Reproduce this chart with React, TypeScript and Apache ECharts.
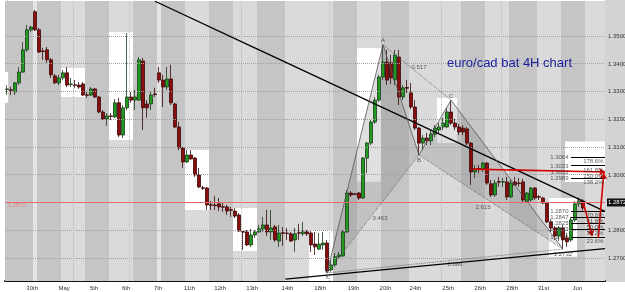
import React, { useEffect, useRef } from 'react';
import * as echarts from 'echarts';

// 4H candles: [open, close, low, high]
const ohlc: number[][] = [
  [1.3307, 1.3309, 1.3287, 1.3323], [1.3306, 1.3304, 1.3287, 1.3317], [1.3298, 1.3331, 1.3287, 1.3334],
  [1.3331, 1.3370, 1.3323, 1.3388], [1.3370, 1.3450, 1.3367, 1.3478], [1.3450, 1.3522, 1.3442, 1.3540],
  [1.3522, 1.3532, 1.3514, 1.3536], [1.3587, 1.3522, 1.3518, 1.3594], [1.3522, 1.3442, 1.3439, 1.3529],
  [1.3446, 1.3444, 1.3414, 1.3457], [1.3450, 1.3414, 1.3403, 1.3460], [1.3414, 1.3360, 1.3349, 1.3421],
  [1.3356, 1.3331, 1.3327, 1.3363], [1.3331, 1.3349, 1.3323, 1.3360], [1.3349, 1.3367, 1.3341, 1.3378],
  [1.3367, 1.3323, 1.3316, 1.3388], [1.3325, 1.3327, 1.3316, 1.3349], [1.3324, 1.3322, 1.3313, 1.3341],
  [1.3323, 1.3316, 1.3309, 1.3334], [1.3327, 1.3287, 1.3284, 1.3334], [1.3288, 1.3286, 1.3277, 1.3298],
  [1.3287, 1.3309, 1.3284, 1.3316], [1.3309, 1.3280, 1.3277, 1.3313], [1.3280, 1.3226, 1.3222, 1.3284],
  [1.3226, 1.3201, 1.3197, 1.3233], [1.3201, 1.3212, 1.3176, 1.3222], [1.3212, 1.3210, 1.3197, 1.3222],
  [1.3208, 1.3259, 1.3205, 1.3273], [1.3259, 1.3143, 1.3136, 1.3277], [1.3143, 1.3241, 1.3132, 1.3251],
  [1.3241, 1.3280, 1.3233, 1.3511], [1.3280, 1.3269, 1.3259, 1.3298], [1.3269, 1.3280, 1.3233, 1.3305],
  [1.3269, 1.3414, 1.3266, 1.3424], [1.3410, 1.3241, 1.3161, 1.3421], [1.3255, 1.3241, 1.3205, 1.3269],
  [1.3255, 1.3287, 1.3233, 1.3298], [1.3291, 1.3289, 1.3280, 1.3313], [1.3367, 1.3341, 1.3331, 1.3388],
  [1.3341, 1.3316, 1.3244, 1.3360], [1.3316, 1.3345, 1.3305, 1.3388], [1.3345, 1.3259, 1.3251, 1.3396],
  [1.3255, 1.3172, 1.3168, 1.3259], [1.3172, 1.3096, 1.3089, 1.3190], [1.3096, 1.3046, 1.3024, 1.3100],
  [1.3046, 1.3071, 1.3042, 1.3089], [1.3071, 1.3057, 1.3053, 1.3089], [1.3060, 1.2999, 1.2992, 1.3064],
  [1.2999, 1.2956, 1.2952, 1.3024], [1.2953, 1.2951, 1.2945, 1.2960], [1.2952, 1.2891, 1.2873, 1.2956],
  [1.2892, 1.2890, 1.2873, 1.2905], [1.2891, 1.2889, 1.2873, 1.2923], [1.2895, 1.2884, 1.2869, 1.2916],
  [1.2885, 1.2883, 1.2866, 1.2902], [1.2884, 1.2869, 1.2855, 1.2891], [1.2874, 1.2872, 1.2848, 1.2884],
  [1.2869, 1.2851, 1.2844, 1.2880], [1.2855, 1.2797, 1.2794, 1.2862], [1.2795, 1.2793, 1.2729, 1.2797],
  [1.2794, 1.2747, 1.2743, 1.2801], [1.2747, 1.2783, 1.2740, 1.2805], [1.2783, 1.2794, 1.2772, 1.2801],
  [1.2794, 1.2805, 1.2790, 1.2819], [1.2805, 1.2819, 1.2794, 1.2848], [1.2819, 1.2794, 1.2779, 1.2873],
  [1.2794, 1.2808, 1.2765, 1.2873], [1.2812, 1.2765, 1.2758, 1.2819], [1.2761, 1.2790, 1.2740, 1.2819],
  [1.2791, 1.2789, 1.2743, 1.2812], [1.2790, 1.2788, 1.2765, 1.2808], [1.2787, 1.2761, 1.2758, 1.2794],
  [1.2765, 1.2787, 1.2722, 1.2808], [1.2791, 1.2789, 1.2765, 1.2823], [1.2787, 1.2794, 1.2779, 1.2830],
  [1.2794, 1.2787, 1.2779, 1.2801], [1.2790, 1.2747, 1.2722, 1.2797], [1.2750, 1.2740, 1.2711, 1.2794],
  [1.2732, 1.2750, 1.2729, 1.2790], [1.2747, 1.2754, 1.2729, 1.2794], [1.2754, 1.2653, 1.2646, 1.2765],
  [1.2657, 1.2675, 1.2651, 1.2693], [1.2675, 1.2704, 1.2668, 1.2718], [1.2704, 1.2711, 1.2700, 1.2722],
  [1.2707, 1.2794, 1.2704, 1.2801], [1.2794, 1.2934, 1.2790, 1.2945], [1.2934, 1.2927, 1.2920, 1.2941],
  [1.2931, 1.2929, 1.2927, 1.2934], [1.2934, 1.2916, 1.2909, 1.2938], [1.2916, 1.3060, 1.2913, 1.3064],
  [1.3060, 1.3114, 1.3006, 1.3118], [1.3114, 1.3190, 1.3107, 1.3197], [1.3190, 1.3269, 1.3183, 1.3280],
  [1.3269, 1.3352, 1.3262, 1.3360], [1.3352, 1.3406, 1.3341, 1.3468], [1.3406, 1.3341, 1.3323, 1.3450],
  [1.3403, 1.3349, 1.3327, 1.3432], [1.3341, 1.3431, 1.3323, 1.3450], [1.3424, 1.3280, 1.3251, 1.3450],
  [1.3280, 1.3313, 1.3269, 1.3323], [1.3314, 1.3312, 1.3295, 1.3341], [1.3295, 1.3244, 1.3236, 1.3331],
  [1.3244, 1.3168, 1.3161, 1.3269], [1.3168, 1.3114, 1.3071, 1.3172], [1.3114, 1.3132, 1.3089, 1.3143],
  [1.3132, 1.3122, 1.3107, 1.3150], [1.3122, 1.3146, 1.3107, 1.3161], [1.3146, 1.3168, 1.3136, 1.3179],
  [1.3161, 1.3172, 1.3150, 1.3186], [1.3172, 1.3186, 1.3161, 1.3205], [1.3172, 1.3226, 1.3168, 1.3241],
  [1.3226, 1.3186, 1.3179, 1.3269], [1.3186, 1.3172, 1.3161, 1.3201], [1.3172, 1.3154, 1.3143, 1.3183],
  [1.3168, 1.3154, 1.3143, 1.3179], [1.3165, 1.3114, 1.3107, 1.3172], [1.3114, 1.3010, 1.2963, 1.3118],
  [1.3010, 1.3021, 1.2988, 1.3035], [1.3022, 1.3020, 1.3006, 1.3035], [1.3021, 1.3042, 1.3010, 1.3046],
  [1.3042, 1.2970, 1.2963, 1.3046], [1.2967, 1.2927, 1.2920, 1.2981], [1.2927, 1.2970, 1.2920, 1.2981],
  [1.2975, 1.2973, 1.2956, 1.2992], [1.2973, 1.2975, 1.2956, 1.2988], [1.2974, 1.2920, 1.2909, 1.2992],
  [1.2920, 1.2970, 1.2916, 1.2981], [1.2974, 1.2963, 1.2960, 1.2992], [1.2970, 1.2968, 1.2956, 1.2988],
  [1.2974, 1.2909, 1.2902, 1.2985], [1.2902, 1.2934, 1.2898, 1.2938], [1.2909, 1.2952, 1.2902, 1.2956],
  [1.2952, 1.2916, 1.2909, 1.2956], [1.2921, 1.2919, 1.2909, 1.2927], [1.2916, 1.2898, 1.2895, 1.2920],
  [1.2898, 1.2830, 1.2826, 1.2902], [1.2830, 1.2808, 1.2794, 1.2840], [1.2808, 1.2779, 1.2765, 1.2815],
  [1.2779, 1.2808, 1.2761, 1.2815], [1.2808, 1.2765, 1.2732, 1.2819], [1.2772, 1.2758, 1.2740, 1.2790],
  [1.2765, 1.2837, 1.2758, 1.2848], [1.2837, 1.2895, 1.2830, 1.2905], [1.2895, 1.2905, 1.2884, 1.2918],
  [1.2905, 1.2880, 1.2870, 1.2912],
];

// x-axis labels (candle-index positions)
const xLabelPos = [6.3, 14.3, 21.8, 29.8, 37.8, 45.6, 53.3, 61.3, 70.1, 78.3, 86.6, 94.6, 102.1, 110.3, 118.3, 126.3, 134.1, 142.6];
const xLabels = ['30th', 'May', '5th', '6th', '7th', '11th', '12th', '13th', '14th', '18th', '19th', '20th', '24th', '25th', '26th', '28th', '31st', 'Jun'];
const yTicks = [1.27, 1.28, 1.29, 1.30, 1.31, 1.32, 1.33, 1.34, 1.35];

// day sessions: [startIndex, endIndex, shade(0 dark,1 light,2 weekend)]
const dayBands: number[][] = [
  [-0.5, 6.5, 0], [6.5, 7.5, 2], [7.5, 13.5, 0], [13.5, 19.5, 1], [19.5, 25.5, 0], [25.5, 31.5, 1],
  [31.5, 37.5, 0], [37.5, 38.5, 2], [38.5, 44.5, 0], [44.5, 50.5, 1], [50.5, 56.5, 0], [56.5, 62.5, 1],
  [62.5, 69.5, 0], [69.5, 75.5, 1], [75.5, 81.5, 1], [81.5, 87.5, 0], [87.5, 93.5, 1], [93.5, 100.5, 0],
  [100.5, 107.5, 1], [107.5, 113.5, 1], [113.5, 119.5, 0], [119.5, 125.5, 1], [125.5, 132.5, 0],
  [132.5, 138.5, 1], [138.5, 144.5, 0], [144.5, 149.5, 1],
];
// highlighted day ranges: [startIndex, endIndex, low, high]
const dayRanges: number[][] = [
  [-0.5, 0.3, 1.3259, 1.3370], [13.5, 19.5, 1.3280, 1.3385], [25.5, 31.5, 1.3125, 1.3514],
  [44.5, 50.5, 1.2873, 1.3089], [56.5, 62.5, 1.2725, 1.2880], [75.5, 81.5, 1.2617, 1.2801],
  [87.5, 93.5, 1.2975, 1.3457], [107.5, 112.5, 1.3114, 1.3277], [135.5, 142.5, 1.2704, 1.2916],
  [139.5, 149.5, 1.2974, 1.3120],
];
const vDotted = [16.5, 30.5, 58.5, 80.5, 108.5, 123.5];

// bat pattern X A B C D
const patNames = ['X', 'A', 'B', 'C', 'D'];
const patX = [80, 94, 103, 111, 139];
const patY = [1.2646, 1.3468, 1.3071, 1.3269, 1.2732];
const ratioSegs = [[0, 2], [1, 3], [2, 4], [0, 4]];
const ratioTexts = ['0.463', '0.517', '2.615', '0.886'];

// trend lines [x1, y1, x2, y2]
const trendLines = [[37, 1.3625, 149.5, 1.2868], [69.6, 1.2624, 149.5, 1.2734]];
const redArrows = [[116.5, 1.3020, 149.5, 1.3010], [144.1, 1.2898, 146.3, 1.2779], [147.8, 1.2772, 149.2, 1.3006]];
const lastPrice = 1.2872;

const upperFib = [1.3064, 1.3033, 1.3011, 1.2989];
const upperPct = ['178.6%', '161.8%', '150.0%', '138.2%'];
const lowerFib = [1.2870, 1.2847, 1.2825, 1.2803, 1.2776];
const lowerPct = ['70.6%', '61.8%', '50.0%', '38.2%', '23.6%'];
const fibStart = 141;

export default function App() {
  const ref = useRef<HTMLDivElement>(null);
  useEffect(() => {
    const chart = echarts.init(ref.current!, undefined, { renderer: 'svg' });
    const font = 'Liberation Sans, Arial, sans-serif';
    const P = patX.map((x, i) => [x, patY[i]]);
    const shade = ['#c5c5c5', '#dadada', '#e4e4e4'];
    const mid = (a: number, b: number) => [(P[a][0] + P[b][0]) / 2, (P[a][1] + P[b][1]) / 2];
    const ratioOffsets = [[7, 4], [2, -5], [-8, 5], [10, 3]];
    const small = { fontSize: 6, fontFamily: font, color: '#333' };
    const seg = (a: number[], b: number[], style: any) => [{ coord: a, lineStyle: style }, { coord: b }];

    const lineMarks: any[] = [];
    trendLines.forEach(t => lineMarks.push(seg([t[0], t[1]], [t[2], t[3]], { color: '#000', width: 1.3, type: 'solid' })));
    [[0, 1], [1, 2], [2, 3], [3, 4]].forEach(s => lineMarks.push(seg(P[s[0]], P[s[1]], { color: '#555', width: 0.8, type: 'solid' })));
    ratioSegs.forEach(s => lineMarks.push(seg(P[s[0]], P[s[1]], { color: '#555', width: 0.8, type: 'dotted' })));
    upperFib.concat(lowerFib).forEach(p => lineMarks.push(seg([fibStart, p], [149.5, p], { color: '#000', width: 1, type: 'solid' })));

    const labelData: any[] = [];
    ratioSegs.forEach((s, i) => labelData.push({ value: mid(s[0], s[1]), label: { formatter: ratioTexts[i], position: 'inside', offset: ratioOffsets[i] } }));
    const letterPos = ['bottom', 'top', 'bottom', 'top', 'bottom'];
    patNames.forEach((n, i) => {
      if (i < 4) labelData.push({ value: P[i], label: { formatter: n, position: letterPos[i], distance: 1 } });
    });
    labelData.push({ value: P[4], label: { formatter: patY[4].toFixed(4), position: 'bottom', distance: 1 } });
    upperFib.forEach((p, i) => {
      labelData.push({ value: [fibStart, p], label: { formatter: p.toFixed(4), position: 'left', distance: 2 } });
      labelData.push({ value: [149.5, p], label: { formatter: upperPct[i], position: 'left', distance: 1, offset: [0, 4] } });
    });
    lowerFib.forEach((p, i) => {
      labelData.push({ value: [fibStart, p], label: { formatter: p.toFixed(4), position: 'left', distance: 2 } });
      labelData.push({ value: [149.5, p], label: { formatter: lowerPct[i], position: 'left', distance: 1, offset: [0, 4] } });
    });
    labelData.push({ value: [-0.5, lastPrice], label: { formatter: lastPrice.toFixed(4), position: 'right', distance: 2, offset: [0, -5], color: '#e07878' } });

    const option: any = {
      animation: false,
      grid: { left: 5, right: 20, top: 1, bottom: 11, containLabel: false, outerBoundsMode: 'none' },
      xAxis: {
        type: 'value', min: -0.5, max: 149.5,
        axisLine: { show: true, onZero: false, lineStyle: { color: '#111', width: 2 } },
        axisTick: { show: false }, splitLine: { show: false },
        axisLabel: {
          customValues: xLabelPos, fontSize: 6, color: '#333', margin: 4, fontFamily: font,
          formatter: (v: number) => { const i = xLabelPos.indexOf(v); return i >= 0 ? xLabels[i] : ''; },
        },
      },
      yAxis: {
        type: 'value', position: 'right', min: 1.2617, max: 1.3626, scale: true,
        axisLine: { show: true, lineStyle: { color: '#888' } }, axisTick: { show: false }, splitLine: { show: false },
        axisLabel: { customValues: yTicks, fontSize: 6, color: '#333', margin: 3, fontFamily: font, formatter: (v: number) => v.toFixed(4) },
      },
      graphic: [
        { type: 'rect', z: -1, shape: { x: 605, y: 0, width: 20, height: 282 }, style: { fill: '#d3d3d3' }, silent: true },
        { type: 'text', z: 100, x: 447, y: 62, style: { text: 'euro/cad bat 4H chart', fill: '#1c1ca0', font: '13px ' + font, textVerticalAlign: 'middle' } },
      ],
      series: [
        {
          type: 'line', data: [[0, 1.3]], symbol: 'none', lineStyle: { opacity: 0 }, silent: true, z: 1,
          markArea: { silent: true, data: dayBands.map(b => [{ xAxis: b[0], itemStyle: { color: shade[b[2]] } }, { xAxis: b[1] }]) },
        },
        {
          type: 'line', data: [[0, 1.3]], symbol: 'none', lineStyle: { opacity: 0 }, silent: true, z: 1,
          markArea: { silent: true, data: dayRanges.map(b => [{ coord: [b[0], b[2]], itemStyle: { color: '#ffffff' } }, { coord: [b[1], b[3]] }]) },
        },
        {
          type: 'line', data: [[0, 1.3]], symbol: 'none', lineStyle: { opacity: 0 }, silent: true, z: 1,
          markLine: {
            silent: true, symbol: ['none', 'none'], label: { show: false },
            data: [
              ...yTicks.map(v => ({ yAxis: v, lineStyle: { color: '#a0a0a0', type: 'dotted', width: 1 } })),
              ...vDotted.map(v => ({ xAxis: v, lineStyle: { color: '#b8b8b8', type: 'dotted', width: 1 } })),
            ],
          },
        },
        {
          type: 'custom', z: 2, silent: true,
          data: [[...P[0], ...P[1], ...P[2]], [...P[2], ...P[3], ...P[4]]],
          encode: { x: [0, 2, 4], y: [1, 3, 5] },
          renderItem: (params: any, api: any) => ({
            type: 'polygon',
            shape: { points: [0, 2, 4].map(k => api.coord([api.value(k), api.value(k + 1)])) },
            style: { fill: 'rgba(110,110,110,0.22)' },
          }),
        },
        {
          type: 'candlestick', z: 3, barWidth: 3.2,
          data: ohlc.map((c, i) => [i, c[0], c[1], c[2], c[3]]),
          encode: { x: 0, y: [1, 2, 3, 4] },
          itemStyle: { color: '#1f9a1f', color0: '#8a0c0c', borderColor: '#1a3a1a', borderColor0: '#3a0808', borderWidth: 0.8 },
        },
        {
          type: 'line', data: [[0, 1.3]], symbol: 'none', lineStyle: { opacity: 0 }, silent: true, z: 4,
          markLine: {
            silent: true, symbol: ['none', 'none'], label: { show: false },
            data: [
              ...lineMarks,
              { yAxis: lastPrice, lineStyle: { color: '#e86a6a', width: 1, type: 'solid' },
                label: { show: true, position: 'end', distance: 2, formatter: lastPrice.toFixed(4), backgroundColor: '#111', color: '#fff', fontSize: 6, fontFamily: font, padding: [1, 1] } },
            ],
          },
        },
        {
          type: 'line', data: [[0, 1.3]], symbol: 'none', lineStyle: { opacity: 0 }, silent: true, z: 5,
          markLine: {
            silent: true, symbol: ['none', 'arrow'], symbolSize: 6, label: { show: false },
            data: redArrows.map(a => [{ coord: [a[0], a[1]], lineStyle: { color: '#d40000', width: 1.6, type: 'solid' } }, { coord: [a[2], a[3]] }]),
          },
        },
        {
          type: 'scatter', z: 6, silent: true, symbolSize: 1, itemStyle: { color: 'transparent' },
          label: { show: true, ...small },
          data: labelData,
        },
      ],
    };
    chart.setOption(option);
    return () => chart.dispose();
  }, []);
  return <div ref={ref} style={{ position: 'fixed', left: 0, top: 0, width: 625, height: 292 }} />;
}
